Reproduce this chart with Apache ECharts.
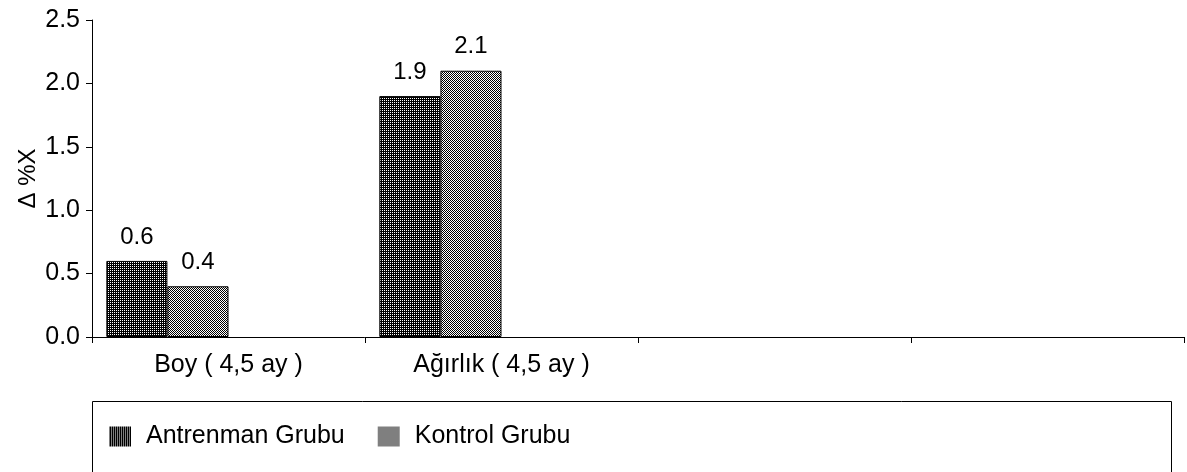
<!DOCTYPE html>
<html>
<head>
<meta charset="utf-8">
<script src="https://cdn.jsdelivr.net/npm/echarts@6/dist/echarts.min.js"></script>
<style>
  html, body { margin: 0; padding: 0; background: #fff; }
  #deltaChart { width: 1187px; height: 472px; }
</style>
</head>
<body>
<div id="deltaChart"></div>
<script>
var categories = ['Boy ( 4,5 ay )', 'Ağırlık ( 4,5 ay )', '', ''];
var seriesNames = ['Antrenman Grubu', 'Kontrol Grubu'];
var antrenmanValues = [0.6, 1.9, '-', '-'];
var kontrolValues = [0.4, 2.1, '-', '-'];
var yTicks = [0, 0.5, 1.0, 1.5, 2.0, 2.5];

// small tiled textures to imitate the printed hatch fills
function makePattern(dark) {
    var c = document.createElement('canvas');
    c.width = 2;
    c.height = 2;
    var ctx = c.getContext('2d');
    ctx.fillStyle = '#fff';
    ctx.fillRect(0, 0, 2, 2);
    ctx.fillStyle = '#000';
    if (dark) {
        ctx.fillRect(1, 0, 1, 1);
        ctx.fillRect(0, 1, 2, 1);
    } else {
        ctx.fillRect(0, 0, 1, 1);
        ctx.fillRect(1, 1, 1, 1);
    }
    return {image: c, repeat: 'repeat'};
}

var darkFill = makePattern(true);
var lightFill = makePattern(false);

var deltaChart = echarts.init(document.getElementById('deltaChart'));
var font = '"Liberation Sans", Arial, sans-serif';

function barSeries(name, values, fill) {
    return {
        name: name,
        type: 'bar',
        barGap: 0,
        barCategoryGap: '10.5%',
        data: values,
        itemStyle: {color: fill, borderColor: '#000', borderWidth: 1},
        label: {
            show: true,
            position: 'top',
            distance: 12,
            color: '#000',
            fontFamily: font,
            fontSize: 24,
            formatter: function (p) { return p.value.toFixed(1); }
        }
    };
}

var option = {
    animation: false,
    backgroundColor: '#fff',
    grid: {left: 92, right: 3, top: 20, bottom: 135},
    legend: {
        data: [
            {name: seriesNames[0], itemStyle: {color: darkFill, borderWidth: 0}},
            {name: seriesNames[1], itemStyle: {color: lightFill, borderWidth: 0}}
        ],
        left: 104,
        top: 419,
        itemWidth: 22,
        itemHeight: 20,
        itemGap: 33,
        icon: 'rect',
        textStyle: {color: '#000', fontFamily: font, fontSize: 25, padding: [0, 0, 0, 10]}
    },
    xAxis: {
        type: 'category',
        data: categories,
        axisLine: {lineStyle: {color: '#000', width: 1}},
        axisTick: {show: true, interval: 0, length: 6, lineStyle: {color: '#000'}},
        axisLabel: {color: '#000', fontFamily: font, fontSize: 25, margin: 16, interval: 0}
    },
    yAxis: {
        type: 'value',
        min: yTicks[0],
        max: yTicks[yTicks.length - 1],
        interval: 0.5,
        name: 'Δ %X',
        nameLocation: 'middle',
        nameGap: 52,
        nameRotate: 90,
        nameMoveOverlap: false,
        nameTextStyle: {color: '#000', fontFamily: font, fontSize: 24},
        axisLine: {show: true, lineStyle: {color: '#000', width: 1}},
        axisTick: {show: true, length: 6, lineStyle: {color: '#000'}},
        splitLine: {show: false},
        axisLabel: {
            color: '#000',
            fontFamily: font,
            fontSize: 25,
            margin: 12,
            formatter: function (v) { return v.toFixed(1); }
        }
    },
    graphic: [{
        type: 'rect',
        shape: {x: 92.5, y: 401.5, width: 1079, height: 120},
        style: {fill: 'none', stroke: '#000', lineWidth: 1}
    }],
    series: [
        barSeries(seriesNames[0], antrenmanValues, darkFill),
        barSeries(seriesNames[1], kontrolValues, lightFill),
        // two empty slots, the original reserves space for them in every category
        {type: 'bar', name: 'pad1', data: ['-', '-', '-', '-'], barGap: 0},
        {type: 'bar', name: 'pad2', data: ['-', '-', '-', '-'], barGap: 0}
    ]
};

deltaChart.setOption(option);
</script>
</body>
</html>
